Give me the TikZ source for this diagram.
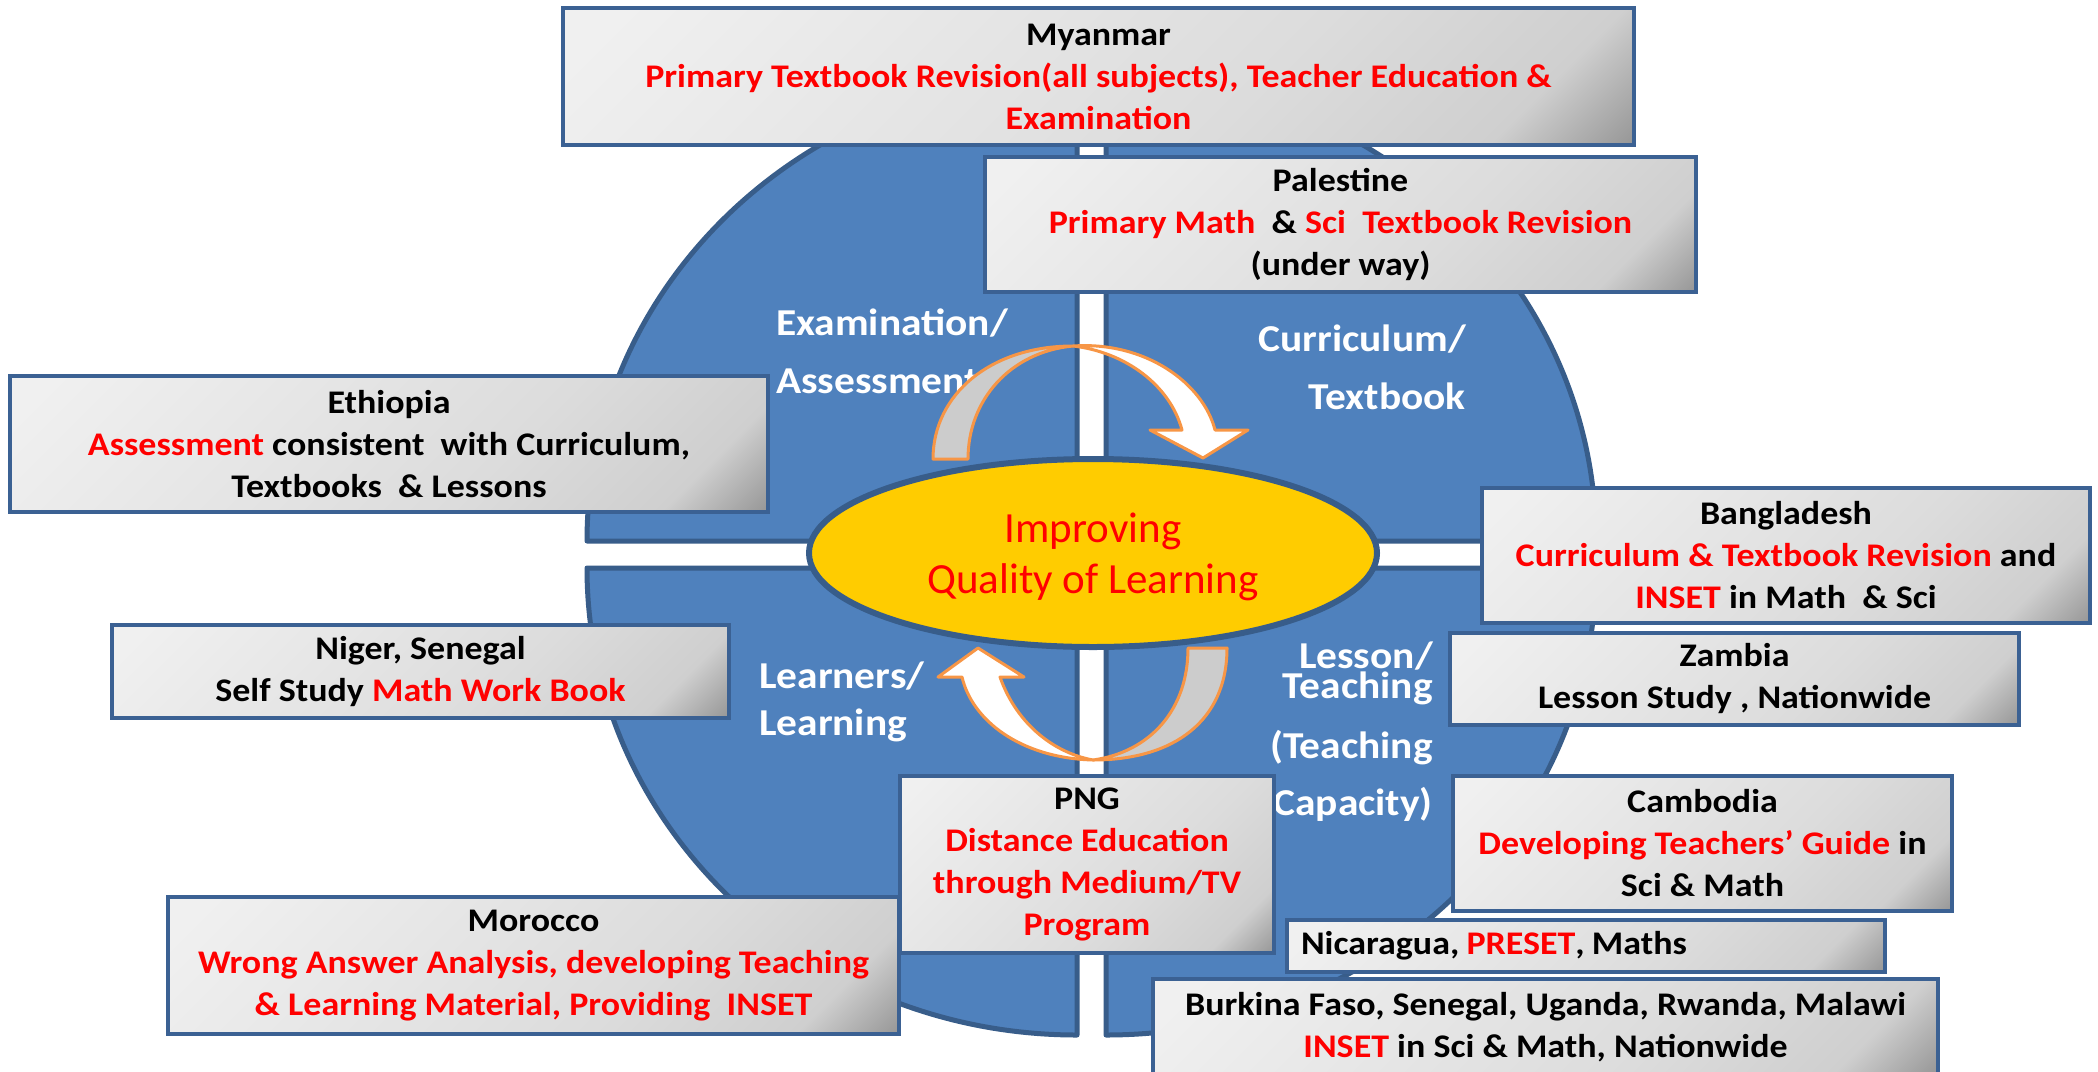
\documentclass[tikz,border=0pt]{standalone}
\usepackage{fontspec}
\setmainfont{Carlito}[BoldFeatures={FakeStretch=1.09}]
\usetikzlibrary{shapes.geometric}
\definecolor{qblue}{HTML}{4F81BD}
\definecolor{qedge}{HTML}{385D8A}
\definecolor{bedge}{HTML}{3B6193}
\definecolor{ylw}{HTML}{FFCC00}
\definecolor{rd}{HTML}{FF0000}
\definecolor{org}{HTML}{F79646}
\definecolor{agray}{HTML}{CCCCCC}
\definecolor{gA}{HTML}{F0F0F0}
\definecolor{gB}{HTML}{DCDCDC}
\definecolor{gC}{HTML}{CFCFCF}
\definecolor{gD}{HTML}{8C8C8C}
\pgfdeclarehorizontalshading{boxshade}{100bp}{color(0bp)=(gA); color(18bp)=(gA); color(60bp)=(gB); color(77bp)=(gC); color(87bp)=(gD); color(100bp)=(gD)}
\newcommand{\R}[1]{\textcolor{rd}{#1}}
\newcommand{\tightlines}{\lineskiplimit=-60pt\relax}
\tikzset{
  cbox/.style={draw=bedge, line width=3.5pt, shade, shading=boxshade, shading angle=-45,
    align=center, font=\fontsize{33}{42}\selectfont\bfseries\frenchspacing, inner sep=0pt, text=black},
  quad/.style={fill=qblue, draw=qedge, line width=5pt, line join=round},
  lbl/.style={text=white, inner sep=0pt},
  arrw/.style={draw=org, line width=3pt, line join=round}
}
\begin{document}
\begin{tikzpicture}[x=1pt,y=-1pt]
\useasboundingbox (0,0) rectangle (2098,1071);
\fill[white] (0,0) rectangle (2098,1071);
% quadrants
\draw[quad] (1077,541) -- (587,541) arc[start angle=180, end angle=270, x radius=490, y radius=465] -- cycle;
\draw[quad] (1106,541) -- (1106,76) arc[start angle=270, end angle=360, x radius=490, y radius=465] -- cycle;
\draw[quad] (1077,568) -- (587,568) arc[start angle=180, end angle=90, x radius=490, y radius=467] -- cycle;
\draw[quad] (1106,568) -- (1596,568) arc[start angle=0, end angle=90, x radius=490, y radius=467] -- cycle;
% quadrant labels
\node[lbl, align=left, anchor=west, font=\fontsize{38}{58}\selectfont\bfseries] (exam) at (776,351) {Examination/\\Assessment};
\node[lbl, align=right, anchor=east, font=\fontsize{38}{58}\selectfont\bfseries] (curr) at (1466,367) {Curriculum/\\Textbook};
\node[lbl, align=left, anchor=west, font=\fontsize{38}{47}\selectfont\bfseries] (lrn) at (759,702) {Learners/\\Learning};
\node[lbl, align=right, anchor=east, font=\fontsize{38}{30}\selectfont\bfseries\tightlines] (les) at (1433,673) {Lesson/\\Teaching};
\node[lbl, align=right, anchor=east, font=\fontsize{38}{57}\selectfont\bfseries] (cap) at (1433,776) {(Teaching\\Capacity)};
% centre
\node[ellipse, draw=qedge, line width=6pt, fill=ylw, minimum width=568pt, minimum height=188pt,
  inner sep=0pt] (core) at (1093,553) {};
\node[align=center, text=rd, inner sep=0pt, font=\fontsize{43}{51}\selectfont] (coretxt) at (1093,557) {Improving\\Quality of Learning};
% arrows
\filldraw[arrw, fill=agray] (933,459) .. controls (933,395) and (990,346) .. (1073,346) .. controls (1010,352) and (968,400) .. (968,459) -- cycle;
\filldraw[arrw, fill=white] (1073,346) .. controls (1145,341) and (1203,383) .. (1215,430) -- (1248,430) -- (1203,458) -- (1150,430) -- (1182,430) .. controls (1170,385) and (1125,352) .. (1073,346) -- cycle;
\filldraw[arrw, fill=white] (1093,760) .. controls (1020,758) and (972,720) .. (962,677) -- (938,677) -- (978,648) -- (1024,677) -- (1000,677) .. controls (1015,720) and (1050,752) .. (1093,760) -- cycle;
\filldraw[arrw, fill=agray] (1227,648) .. controls (1227,720) and (1175,760) .. (1093,760) .. controls (1150,752) and (1188,710) .. (1188,648) -- cycle;
% country boxes
\node[cbox, minimum width=1071pt, minimum height=137pt] (mya) at (1098.5,76.5)
  {Myanmar\\\R{Primary Textbook Revision(all subjects), Teacher Education \&}\\\R{Examination}};
\node[cbox, minimum width=711pt, minimum height=135pt] (pal) at (1340.5,224.5)
  {Palestine\\\R{Primary Math}\ \ \& \R{Sci\ \ Textbook Revision}\\(under way)};
\node[cbox, minimum width=758pt, minimum height=136pt] (eth) at (389,444)
  {Ethiopia\\\R{Assessment} consistent\ \ with Curriculum,\\Textbooks\ \ \& Lessons};
\node[cbox, minimum width=617pt, minimum height=93pt] (nig) at (420.5,671.5)
  {Niger, Senegal\\Self Study \R{Math Work Book}};
\node[cbox, minimum width=608pt, minimum height=135pt] (ban) at (1786,555.5)
  {Bangladesh\\\R{Curriculum \& Textbook Revision} and\\\R{INSET} in Math\ \ \& Sci};
\node[cbox, minimum width=569pt, minimum height=92pt] (zam) at (1734.5,679)
  {Zambia\\Lesson Study , Nationwide};
\node[cbox, minimum width=499pt, minimum height=135pt] (cam) at (1702.5,843.5)
  {Cambodia\\\R{Developing Teachers’ Guide} in\\Sci \& Math};
\node[cbox, minimum width=374pt, minimum height=177pt] (png) at (1087,864.5)
  {PNG\\\R{Distance Education}\\\R{through Medium/TV}\\\R{Program}};
\node[cbox, minimum width=731pt, minimum height=137pt] (mor) at (533.5,965.5)
  {Morocco\\\R{Wrong Answer Analysis, developing Teaching}\\\R{\& Learning Material, Providing\ \ INSET}};
\node[cbox, minimum width=598pt, minimum height=52pt] (nic) at (1586,946)
  {\makebox[570pt][l]{Nicaragua,\hspace{0.22em}\R{PRESET},\hspace{0.22em}Maths}};
\node[cbox, minimum width=785pt, minimum height=96pt] (bur) at (1545.5,1027)
  {Burkina Faso, Senegal, Uganda, Rwanda, Malawi\\\R{INSET} in Sci \& Math, Nationwide};
\end{tikzpicture}
\end{document}
